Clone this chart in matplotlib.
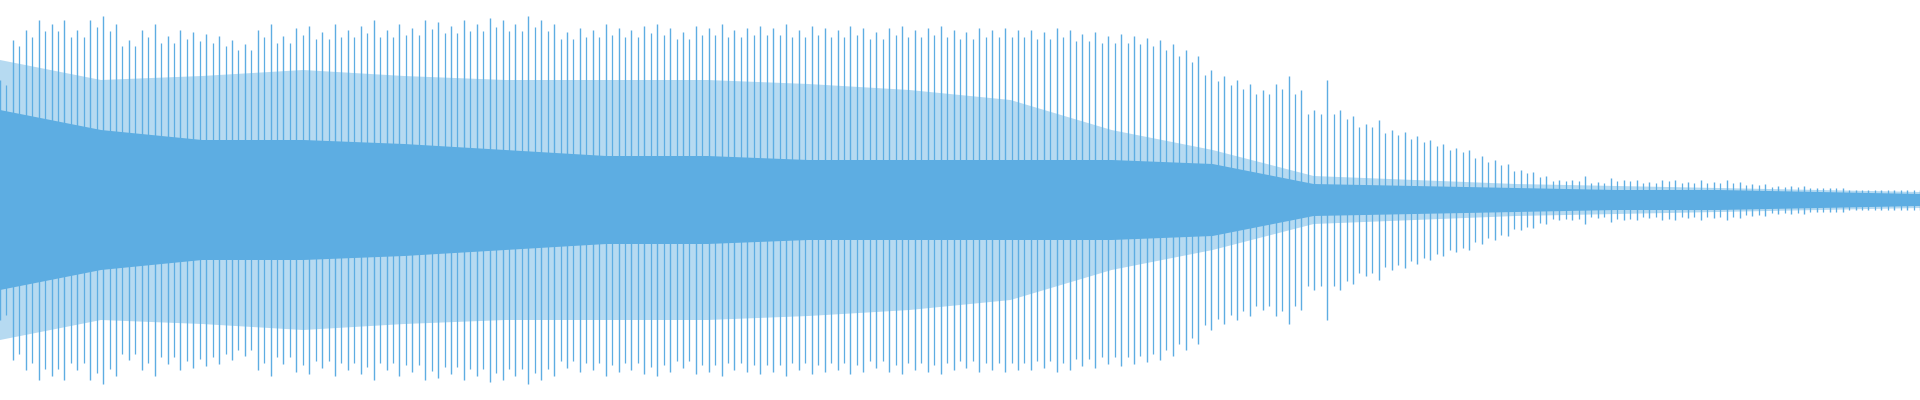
import numpy as np
import matplotlib
matplotlib.use("Agg")
import matplotlib.pyplot as plt

# outer peak amplitudes, left to right (normalised, +-1)
peaks = [0.6, 0.8, 0.85, 0.9, 0.88, 0.9, 0.85, 0.9, 0.92, 0.88,
         0.8, 0.85, 0.88, 0.82, 0.85, 0.84, 0.83, 0.82, 0.8, 0.78,
         0.85, 0.88, 0.82, 0.86, 0.87, 0.84, 0.88, 0.85, 0.87, 0.9,
         0.85, 0.88, 0.86, 0.9, 0.89, 0.87, 0.9, 0.88, 0.91, 0.9,
         0.88, 0.92, 0.9, 0.88, 0.84, 0.86, 0.85, 0.88, 0.86, 0.85,
         0.87, 0.88, 0.86, 0.84, 0.87, 0.86, 0.88, 0.85, 0.86, 0.87,
         0.86, 0.88, 0.85, 0.87, 0.86, 0.85, 0.87, 0.86, 0.84, 0.86,
         0.87, 0.85, 0.86, 0.87, 0.85, 0.84, 0.86, 0.85, 0.86, 0.85,
         0.85, 0.84, 0.86, 0.85, 0.83, 0.84, 0.82, 0.83, 0.82, 0.81,
         0.8, 0.78, 0.75, 0.72, 0.65, 0.62, 0.6, 0.58, 0.55, 0.58,
         0.62, 0.55, 0.45, 0.6, 0.45, 0.42, 0.38, 0.4, 0.35, 0.34,
         0.32, 0.3, 0.28, 0.26, 0.25, 0.22, 0.2, 0.18, 0.15, 0.14,
         0.12, 0.1, 0.1, 0.12, 0.09, 0.11, 0.1, 0.1, 0.09, 0.1,
         0.1, 0.09, 0.1, 0.09, 0.1, 0.09, 0.08, 0.08, 0.07, 0.07,
         0.07, 0.06, 0.06, 0.06, 0.05, 0.05, 0.05, 0.05, 0.05, 0.05]

# semi-dense middle layer and solid inner band amplitudes
mid = [0.7, 0.6, 0.62, 0.65, 0.62, 0.6, 0.6, 0.6, 0.58, 0.55,
       0.5, 0.35, 0.25, 0.12, 0.1, 0.08, 0.07, 0.06, 0.05, 0.04]
core = [0.45, 0.35, 0.3, 0.3, 0.28, 0.25, 0.22, 0.22, 0.2, 0.2,
        0.2, 0.2, 0.18, 0.08, 0.07, 0.06, 0.05, 0.05, 0.04, 0.03]

color = "#5DADE2"
fig = plt.figure(figsize=(19.2, 4), dpi=100)
ax = fig.add_axes([0, 0, 1, 1])

pk = np.array(peaks)
xp = np.linspace(0, 1, len(pk))
ax.vlines(xp, -pk, pk, color=color, lw=1.0)
xm = (xp[:-1] + xp[1:]) / 2
pm = np.minimum(pk[:-1], pk[1:]) * 0.96
ax.vlines(xm, -pm, pm, color=color, lw=0.9)

md = np.array(mid)
xmd = np.linspace(0, 1, len(md))
ax.fill_between(xmd, -md, md, color=color, lw=0, alpha=0.45)

cr = np.array(core)
xc = np.linspace(0, 1, len(cr))
ax.fill_between(xc, -cr, cr, color=color, lw=0)

ax.set_xlim(0, 1)
ax.set_ylim(-1.0, 1.0)
ax.axis("off")
fig.savefig("out.png", dpi=100)
